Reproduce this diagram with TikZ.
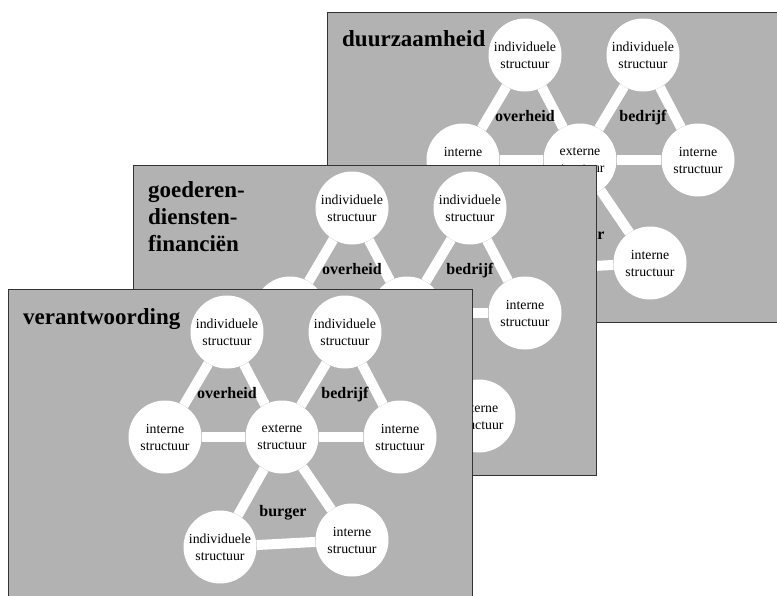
\documentclass[tikz,border=0pt]{standalone}
\usepackage{fontspec}
\setmainfont{Liberation Serif}

\begin{document}
\begin{tikzpicture}[
  x=1pt, y=-1pt,
  panel/.style={
    draw=black!80,
    fill=black!30,
    line width=0.9pt
  },
  unit/.style={
    circle,
    fill=white,
    minimum size=73pt,
    inner sep=0pt,
    align=center,
    font=\fontsize{13.8}{17}\selectfont
  },
  sector/.style={
    anchor=base,
    inner sep=0pt,
    font=\fontsize{16}{19}\selectfont\bfseries
  },
  title/.style={
    inner sep=0pt,
    align=left,
    font=\fontsize{23}{27}\selectfont\bfseries
  },
  link/.style={draw=white,line width=10pt}
]
  \useasboundingbox (0,0) rectangle (777,595);

  % Back sheet: duurzaamheid.
  \begin{scope}[shift={(327,12)}]
    \path[panel] (0,0) rectangle (463,310);
    \node[title,anchor=base west] (dtitle) at (15,34) {duurzaamheid};

    \node[unit] (dindl) at (198,43) {individuele\\structuur};
    \node[unit] (dindr) at (316,43) {individuele\\structuur};
    \node[unit] (dintl) at (136,148) {interne\\structuur};
    \node[unit] (dext) at (253,148) {externe\\structuur};
    \node[unit] (dintr) at (371,148) {interne\\structuur};
    \node[unit] (dindb) at (191,258) {individuele\\structuur};
    \node[unit] (dintb) at (323,251) {interne\\structuur};

    \draw[link] (dindl) -- (dintl);
    \draw[link] (dindl) -- (dext);
    \draw[link] (dintl) -- (dext);
    \draw[link] (dindr) -- (dext);
    \draw[link] (dindr) -- (dintr);
    \draw[link] (dext) -- (dintr);
    \draw[link] (dext) -- (dindb);
    \draw[link] (dext) -- (dintb);
    \draw[link] (dindb) -- (dintb);

    \node[sector] (doverheid) at (198,109) {overheid};
    \node[sector] (dbedrijf) at (316,109) {bedrijf};
    \node[sector] (dburger) at (254,227) {burger};
  \end{scope}

  % Middle sheet: goederen-diensten-financien.
  \begin{scope}[shift={(133,165)}]
    \path[panel] (0,0) rectangle (463,310);
    \node[title,anchor=north west] (gtitle) at (15,16.4) {goederen-\\diensten-\\financiën};

    \node[unit] (gindl) at (219,43) {individuele\\structuur};
    \node[unit] (gindr) at (337,43) {individuele\\structuur};
    \node[unit] (gintl) at (157,148) {interne\\structuur};
    \node[unit] (gext) at (274,148) {externe\\structuur};
    \node[unit] (gintr) at (392,148) {interne\\structuur};
    \node[unit] (gindb) at (212,258) {individuele\\structuur};
    \node[unit] (gintb) at (346,251) {interne\\structuur};

    \draw[link] (gindl) -- (gintl);
    \draw[link] (gindl) -- (gext);
    \draw[link] (gintl) -- (gext);
    \draw[link] (gindr) -- (gext);
    \draw[link] (gindr) -- (gintr);
    \draw[link] (gext) -- (gintr);
    \draw[link] (gext) -- (gindb);
    \draw[link] (gext) -- (gintb);
    \draw[link] (gindb) -- (gintb);

    \node[sector] (goverheid) at (219,109) {overheid};
    \node[sector] (gbedrijf) at (337,109) {bedrijf};
    \node[sector] (gburger) at (275,227) {burger};
  \end{scope}

  % Front sheet: verantwoording.
  \begin{scope}[shift={(8,289)}]
    \path[panel] (0,0) rectangle (464,310);
    \node[title,anchor=base west] (vtitle) at (15,35) {verantwoording};

    \node[unit] (vindl) at (219,43) {individuele\\structuur};
    \node[unit] (vindr) at (337,43) {individuele\\structuur};
    \node[unit] (vintl) at (157,148) {interne\\structuur};
    \node[unit] (vext) at (274,148) {externe\\structuur};
    \node[unit] (vintr) at (392,148) {interne\\structuur};
    \node[unit] (vindb) at (212,258) {individuele\\structuur};
    \node[unit] (vintb) at (344,251) {interne\\structuur};

    \draw[link] (vindl) -- (vintl);
    \draw[link] (vindl) -- (vext);
    \draw[link] (vintl) -- (vext);
    \draw[link] (vindr) -- (vext);
    \draw[link] (vindr) -- (vintr);
    \draw[link] (vext) -- (vintr);
    \draw[link] (vext) -- (vindb);
    \draw[link] (vext) -- (vintb);
    \draw[link] (vindb) -- (vintb);

    \node[sector] (voverheid) at (219,109) {overheid};
    \node[sector] (vbedrijf) at (337,109) {bedrijf};
    \node[sector] (vburger) at (275,227) {burger};
  \end{scope}
\end{tikzpicture}
\end{document}
